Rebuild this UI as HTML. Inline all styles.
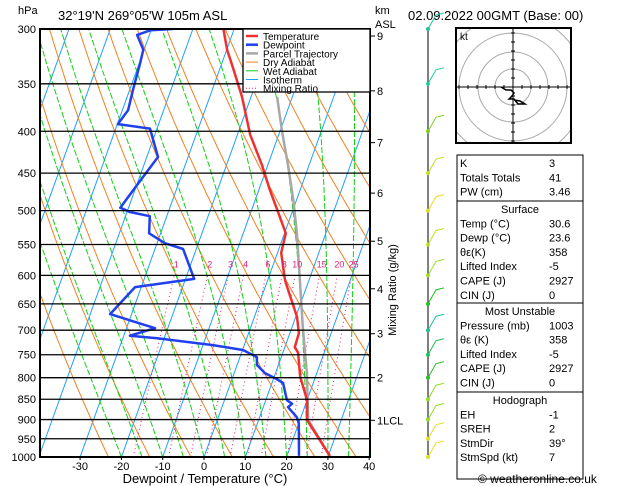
<!DOCTYPE html>
<html><head><meta charset="utf-8">
<style>
body{margin:0;background:#fff;}
svg{display:block;font-family:"Liberation Sans",sans-serif;}
</style></head>
<body>
<svg id="c" width="629" height="486" viewBox="0 0 629 486" xmlns="http://www.w3.org/2000/svg">
<text x="18" y="14" font-size="11">hPa</text>
<text x="58" y="20" font-size="13">32°19'N  269°05'W  105m  ASL</text>
<text x="375" y="14" font-size="11">km</text>
<text x="375" y="28" font-size="11">ASL</text>
<text x="408" y="20" font-size="13">02.09.2022  00GMT  (Base: 00)</text>
<g id="plot"></g>
<text x="205" y="483" font-size="13" text-anchor="middle">Dewpoint / Temperature (°C)</text>
<text x="478" y="483" font-size="12">© weatheronline.co.uk</text>
<g id="hodo"></g>
<g id="tbl"></g>
<g id="wind"></g>
</svg>
<script>
const tempP=[997,901,852,798,746,734,706,674,625,608,563,533,503,472,440,404,363,334,318,300];
const tempT=[30.4,21.7,20.0,16.3,13.7,12.4,12.2,10.3,5.8,4.2,0.9,0.3,-3.3,-7.3,-11.4,-16.9,-22.2,-27.0,-29.9,-32.6];
const dewP=[997,909,894,869,861,852,812,801,790,772,755,740,730,716,711,696,669,620,606,557,548,533,508,502,496,455,430,397,392,377,356,330,318,305,301,300];
const dewT=[22.9,20.0,19.0,16.0,16.7,15.1,12.7,10.3,7.5,4.8,4.1,0.1,-7.6,-21.7,-28.5,-23.1,-35.2,-31.5,-17.9,-23.2,-28.1,-32.8,-34.1,-39.3,-42.0,-39.2,-37.3,-41.7,-49.9,-48.6,-49.2,-49.8,-50.2,-53.0,-50.1,-44.8];
const parcelP=[997,901,790,694,608,533,485,440,399,363];
const parcelT=[30.4,22.0,17.6,12.6,7.8,3.0,-0.8,-5.1,-9.6,-13.7];
const pLevels=[300,350,400,450,500,550,600,650,700,750,800,850,900,950,1000];
const tTicks=[-30,-20,-10,0,10,20,30,40];
const mixRatios=[1,2,3,4,6,8,10,15,20,25];
const kmTicks=[1,2,3,4,5,6,7,8,9];
const kmLabels=["1LCL","2","3","4","5","6","7","8","9"];
const kmP=[902,800,707,623,545,476,413,357,306];

const NS="http://www.w3.org/2000/svg";
const L=40,R=370,T=29,B=457;
function yP(p){return T+Math.log(p/300)/Math.log(1000/300)*(B-T);}
function xT(t,y){return 204+4.13*t+0.36*(B-y);}
function mk(tag,at,par){const e=document.createElementNS(NS,tag);for(const k in at)e.setAttribute(k,at[k]);par.appendChild(e);return e;}
const plot=document.getElementById('plot');
const defs=mk('defs',{},plot);
const cp=mk('clipPath',{id:'clip'},defs);mk('rect',{x:L,y:T,width:R-L,height:B-T},cp);
const bg=mk('g',{'clip-path':'url(#clip)'},plot);


// isotherms
for(let t=-120;t<=40;t+=10){const l=mk('line',{x1:xT(t,B),y1:B,x2:xT(t,T),y2:T,stroke:'#1ea0ff','stroke-width':1},bg);

}
// dry adiabats
function curve(fn,pmin,pmax){let d='';for(let p=pmax;p>=pmin;p-=5){const y=yP(p);d+=(d?'L':'M')+xT(fn(p),y).toFixed(1)+','+y.toFixed(1);}return d;}
for(let th=250;th<=480;th+=10){const pa=mk('path',{d:curve(p=>th*Math.pow(p/1000,0.286)-273.15,300,1000),fill:'none',stroke:'#f08020','stroke-width':1},bg);

}
// wet adiabats
function es(t){return 6.112*Math.exp(17.67*t/(t+243.5));}
for(let t0=-20;t0<=40;t0+=5){let t=t0,d='';for(let p=1000;p>=300;p-=5){const y=yP(p);d+=(d?'L':'M')+xT(t,y).toFixed(1)+','+y.toFixed(1);
const TK=t+273.15,rs=0.622*es(t)/(p-es(t));const dTdp=(287*TK+2.5e6*rs)/(p*(1005+2.5e6*2.5e6*rs*0.622/(287*TK*TK)));t-=dTdp*5;}
const pa=mk('path',{d:d,fill:'none',stroke:'#10d010','stroke-width':1,'stroke-dasharray':'6,2'},bg);

}
// mixing ratio
function tdw(w,p){const e=w*p/(622+w);const a=Math.log(e/6.112);return 243.5*a/(17.67-a);}
mixRatios.forEach(w=>{const pa=mk('path',{d:curve(p=>tdw(w,p),600,1000),fill:'none',stroke:'#e0207a','stroke-width':1,'stroke-dasharray':'1,3'},bg);


const y=yP(590);const tx=mk('text',{x:xT(tdw(w,600),y),y:y-2,'font-size':9,fill:'#e0207a','text-anchor':'middle'},plot);tx.textContent=w;

});
// pressure lines
pLevels.forEach(p=>{const y=yP(p);const l=mk('line',{x1:L,y1:y,x2:R,y2:y,stroke:'#000','stroke-width':1.3},plot);


const tx=mk('text',{x:36,y:y+4,'font-size':11,'text-anchor':'end'},plot);tx.textContent=p;

});
tTicks.forEach(t=>{const x=xT(t,B);const tx=mk('text',{x:x,y:470,'font-size':11,'text-anchor':'middle'},plot);tx.textContent=t;


const l=mk('line',{x1:x,y1:B,x2:x,y2:B+3,stroke:'#000'},plot);

});
kmTicks.forEach((k,i)=>{const y=yP(kmP[i]);const l=mk('line',{x1:R,y1:y,x2:R+5,y2:y,stroke:'#000'},plot);


const tx=mk('text',{x:R+7,y:y+4,'font-size':11},plot);tx.textContent=kmLabels[i];

});
const mr=mk('text',{x:396,y:290,'font-size':11,'text-anchor':'middle',transform:'rotate(-90 396 290)'},plot);mr.textContent='Mixing Ratio (g/kg)';


function series(P,Tv,col,w,name){let d='';P.forEach((p,i)=>{const y=yP(p);d+=(i?'L':'M')+xT(Tv[i],y).toFixed(1)+','+y.toFixed(1);});
const pa=mk('path',{d:d,fill:'none',stroke:col,'stroke-width':w,'stroke-linejoin':'round'},bg);

}
series(parcelP,parcelT,'#a8a8a8',2.5,'parcel-trajectory');
series(tempP,tempT,'#f03030',2.5,'temperature-line');
series(dewP,dewT,'#2040f0',2.5,'dewpoint-line');
const fr=mk('rect',{x:L,y:T,width:R-L,height:B-T,fill:'none',stroke:'#000','stroke-width':2},plot);


// legend
const lg=mk('g',{},plot);


mk('rect',{x:243,y:29,width:127,height:63,fill:'#fff',stroke:'#000','stroke-width':1.3},lg);
const legNames=['Temperature','Dewpoint','Parcel Trajectory','Dry Adiabat','Wet Adiabat','Isotherm','Mixing Ratio'];
const legCols=['#f03030','#2040f0','#a8a8a8','#f08020','#10d010','#1ea0ff','#e0207a'];
legNames.forEach((n,i)=>{const y=36+i*8.7;const l=mk('line',{x1:246,y1:y,x2:258,y2:y,stroke:legCols[i],'stroke-width':i<3?2.5:1,'stroke-dasharray':i==6?'1,2':'none'},lg);


const tx=mk('text',{x:263,y:y+4,'font-size':10},lg);tx.textContent=n;

});
// hodograph
const ho=document.getElementById('hodo');
const hcp=mk('clipPath',{id:'hclip'},ho);mk('rect',{x:456,y:28,width:115,height:115},hcp);
const hg=mk('g',{'clip-path':'url(#hclip)'},ho);
[18,35,54,72].forEach(r=>{const c=mk('circle',{cx:513,cy:87,r:r,fill:'none',stroke:'#aaa'},hg);

});
mk('line',{x1:456,y1:87,x2:571,y2:87,stroke:'#000'},hg);mk('line',{x1:513,y1:28,x2:513,y2:143,stroke:'#000'},hg);
for(let i=-6;i<=6;i++){if(!i)continue;mk('line',{x1:513+i*9,y1:85,x2:513+i*9,y2:89,stroke:'#000'},hg);mk('line',{x1:511,y1:87+i*9,x2:515,y2:87+i*9,stroke:'#000'},hg);}
const hp=mk('path',{d:'M501,87 L506,90 L511,90 L514,93 L512,96 L509,99 L514,99 L518,104 L525,104 L520,101 L514,100',fill:'none',stroke:'#000','stroke-width':1.5},hg);


const kt=mk('text',{x:460,y:40,'font-size':10},ho);kt.textContent='kt';


const hb=mk('rect',{x:456,y:28,width:115,height:115,fill:'none',stroke:'#000','stroke-width':2},ho);


// table
const tb=document.getElementById('tbl');
const sections=[{y:155,h:46,head:null,rows:[['K','3'],['Totals Totals','41'],['PW (cm)','3.46']]},
{y:201,h:102,head:'Surface',rows:[['Temp (°C)','30.6'],['Dewp (°C)','23.6'],['θε(K)','358'],['Lifted Index','-5'],['CAPE (J)','2927'],['CIN (J)','0']]},
{y:303,h:89,head:'Most Unstable',rows:[['Pressure (mb)','1003'],['θε (K)','358'],['Lifted Index','-5'],['CAPE (J)','2927'],['CIN (J)','0']]},
{y:392,h:87,head:'Hodograph',rows:[['EH','-1'],['SREH','2'],['StmDir','39°'],['StmSpd (kt)','7']]}];
sections.forEach(s=>{const r=mk('rect',{x:457,y:s.y,width:126,height:s.h,fill:'none',stroke:'#000','stroke-width':1},tb);


let y=s.y+12;
if(s.head){const t=mk('text',{x:520,y:y,'font-size':11,'text-anchor':'middle'},tb);t.textContent=s.head;

y+=14.3;}
s.rows.forEach(rw=>{const a=mk('text',{x:460,y:y,'font-size':11},tb);a.textContent=rw[0];


const b=mk('text',{x:549,y:y,'font-size':11},tb);b.textContent=rw[1];

y+=14.3;});});
// wind barbs
const wd=document.getElementById('wind');
const wl=mk('line',{x1:428,y1:29,x2:428,y2:457,stroke:'#000','stroke-width':1},wd);


const windP=[300,350,400,450,500,550,600,650,700,750,800,850,900,950,1000];
const windCol=['#20c0a0','#20d0a0','#80d020','#c0e020','#e0e020','#c0e020','#a0e020','#20c020','#20c0a0','#20c060','#20c020','#90e020','#90e020','#e0e020','#e0e020'];
windP.forEach((p,i)=>{const y=yP(p);const c=mk('circle',{cx:428,cy:y,r:2,fill:windCol[i]},wd);


mk('path',{d:`M428,${y} L436,${y-14} L444,${y-16}`,fill:'none',stroke:windCol[i],'stroke-width':1},wd);});
</script>
</body></html>
